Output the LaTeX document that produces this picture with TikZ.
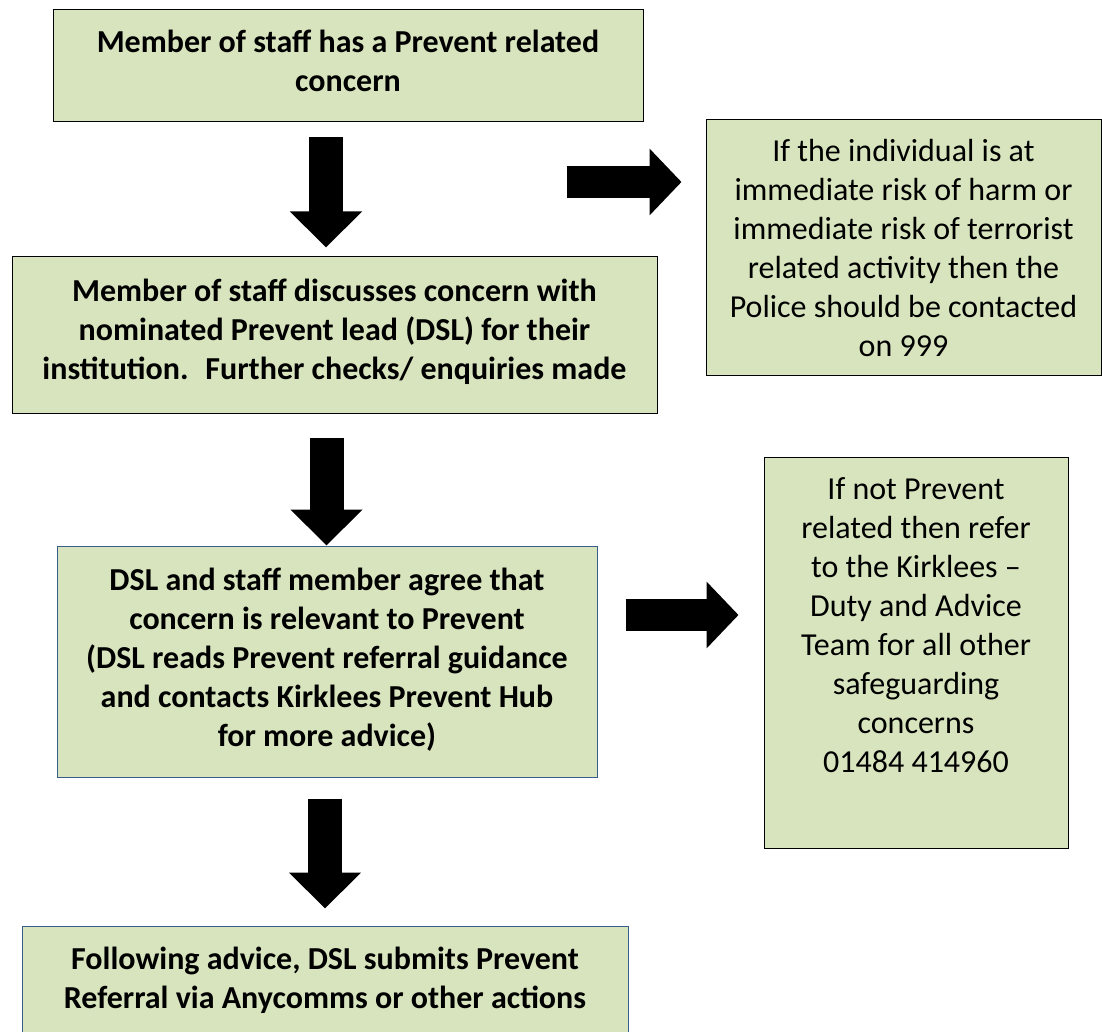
\documentclass[tikz,border=0pt]{standalone}
\usepackage{fontspec}
\setmainfont{Carlito}
\usetikzlibrary{arrows.meta}
\definecolor{boxgreen}{HTML}{D7E4BD}
\definecolor{boxblue}{HTML}{385D8A}
\tikzstyle{stepbold} = [rectangle, draw=black, line width=1pt, fill=boxgreen, align=center, font=\fontsize{32}{39}\selectfont\bfseries]
\tikzstyle{stepblue} = [stepbold, draw=boxblue]
\tikzstyle{sidenote} = [rectangle, draw=black, line width=1pt, fill=boxgreen, align=center, font=\fontsize{32}{39}\selectfont]
\tikzstyle{downarrow} = [line width=34pt, -{Triangle[length=36pt, width=70pt]}]
\tikzstyle{rightarrow} = [line width=32pt, -{Triangle[length=32pt, width=65pt]}]
\begin{document}
\begin{tikzpicture}[x=1pt, y=1pt]
\useasboundingbox (0,0) rectangle (1102,-1032);

\node (start) [stepbold, minimum width=590pt, minimum height=112pt] at (348,-66) {Member of staff has a Prevent related\\concern\\[-29pt]\mbox{}};
\node (discuss) [stepbold, minimum width=645pt, minimum height=156pt] at (334.5,-335) {Member of staff discusses concern with\\nominated Prevent lead (DSL) for their\\institution.~ Further checks/ enquiries made\\[-27pt]\mbox{}};
\node (agree) [stepblue, minimum width=540pt, minimum height=231pt] at (327,-661.5) {DSL and staff member agree that\\concern is relevant to Prevent\\(DSL reads Prevent referral guidance\\and contacts Kirklees Prevent Hub\\for more advice)\\[-31pt]\mbox{}};
\node (submit) [stepblue, minimum width=606pt, minimum height=114pt] at (325,-983) {Following advice, DSL submits Prevent\\Referral via Anycomms or other actions\\[-29pt]\mbox{}};

\node (police) [sidenote, minimum width=395pt, minimum height=255pt] at (903.5,-247.5) {If the individual is at\\immediate risk of harm or\\immediate risk of terrorist\\related activity then the\\Police should be contacted\\on 999};
\node (notprev) [sidenote, minimum width=304pt, minimum height=391pt] at (916,-652.5) {If not Prevent\\related then refer\\to the Kirklees --\\Duty and Advice\\Team for all other\\safeguarding\\concerns\\01484 414960\\[16pt]\mbox{}};

\draw [downarrow] ([xshift=-22pt, yshift=-15pt]start.south) -- ([xshift=-8.5pt, yshift=9pt]discuss.north);
\draw [downarrow] ([xshift=-8pt, yshift=-24pt]discuss.south) -- ([xshift=-0.5pt]agree.north);
\draw [downarrow] ([xshift=-2pt, yshift=-21pt]agree.south) -- ([yshift=17pt]submit.north);
\draw [rightarrow] ([xshift=-139pt, yshift=65.5pt]police.west) -- ([xshift=-24pt, yshift=65.5pt]police.west);
\draw [rightarrow] ([xshift=28pt, yshift=46.5pt]agree.east) -- ([xshift=-25pt, yshift=37.5pt]notprev.west);

\end{tikzpicture}
\end{document}
